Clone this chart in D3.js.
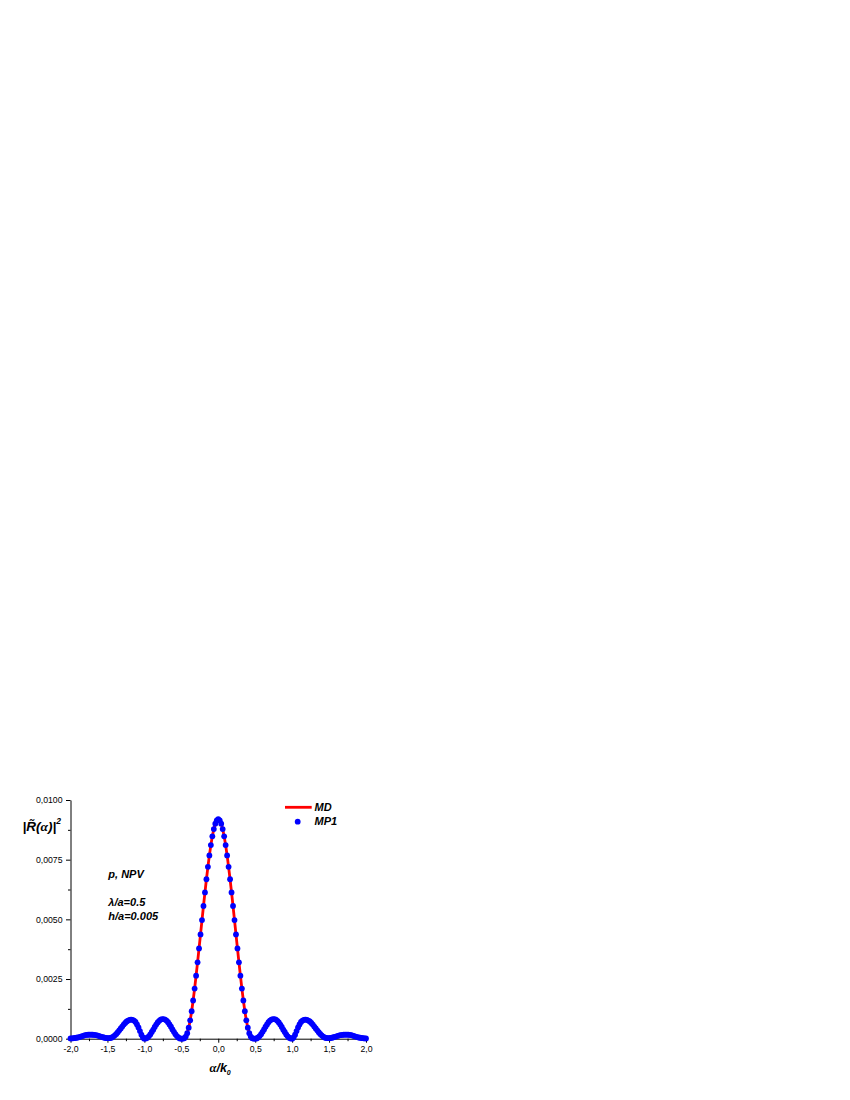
<!DOCTYPE html>
<html><head><meta charset="utf-8">
<script src="https://cdn.jsdelivr.net/npm/d3@7"></script>
<style>body{margin:0;background:#fff}svg{display:block}</style>
</head><body>
<svg id="chart" width="850" height="1100"></svg>
<script>
// ---- data ----
// sampling grid: alpha/k0 from -2.0 to 2.0 in steps of 0.02 (201 samples)
const alphaGrid = d3.range(201).map(i => +(-2 + i * 0.02).toFixed(2));
// |R(alpha)|^2 values, MP1 (blue dots)
const mp1Values = [
0.00001,0.00001,0.00002,0.00003,0.00004,0.00005,0.00007,0.00009,0.00011,0.00013,
0.00015,0.00016,0.00017,0.00017,0.00017,0.00017,0.00016,0.00015,0.00014,0.00012,
0.00010,0.00008,0.00006,0.00004,0.00003,0.00002,0.00002,0.00003,0.00005,0.00009,
0.00014,0.00020,0.00027,0.00035,0.00043,0.00051,0.00059,0.00066,0.00072,0.00076,
0.00079,0.00080,0.00079,0.00076,0.00070,0.00060,0.00047,0.00032,0.00017,0.00005,
0.00000,0.00001,0.00004,0.00010,0.00018,0.00028,0.00038,0.00049,0.00059,0.00068,
0.00075,0.00080,0.00082,0.00082,0.00080,0.00076,0.00069,0.00060,0.00050,0.00039,
0.00029,0.00019,0.00011,0.00005,0.00001,0.00000,0.00000,0.00002,0.00009,0.00023,
0.00046,0.00077,0.00115,0.00160,0.00210,0.00264,0.00320,0.00378,0.00437,0.00497,
0.00556,0.00613,0.00668,0.00720,0.00768,0.00811,0.00848,0.00878,0.00901,0.00915,
0.00920,
0.00915,0.00901,0.00878,0.00848,0.00811,0.00768,0.00720,0.00668,0.00613,0.00556,
0.00497,0.00437,0.00378,0.00320,0.00264,0.00210,0.00160,0.00115,0.00077,0.00046,
0.00023,0.00009,0.00002,0.00000,0.00000,0.00001,0.00005,0.00011,0.00019,0.00029,
0.00039,0.00050,0.00060,0.00069,0.00076,0.00080,0.00082,0.00082,0.00080,0.00075,
0.00068,0.00059,0.00049,0.00038,0.00028,0.00018,0.00010,0.00004,0.00001,0.00000,
0.00005,0.00017,0.00032,0.00047,0.00060,0.00070,0.00076,0.00079,0.00080,0.00079,
0.00076,0.00072,0.00066,0.00059,0.00051,0.00043,0.00035,0.00027,0.00020,0.00014,
0.00009,0.00005,0.00003,0.00002,0.00002,0.00003,0.00004,0.00006,0.00008,0.00010,
0.00012,0.00014,0.00015,0.00016,0.00017,0.00017,0.00017,0.00017,0.00016,0.00015,
0.00013,0.00011,0.00009,0.00007,0.00005,0.00004,0.00003,0.00002,0.00001,0.00001
];
// MD (red line) coincides with MP1 on the picture
const mdValues = mp1Values.slice();

const xTickValues = [-2, -1.5, -1, -0.5, 0, 0.5, 1, 1.5, 2];
const xTickLabels = ["-2,0","-1,5","-1,0","-0,5","0,0","0,5","1,0","1,5","2,0"];
const xMinorTicks = [-1.75,-1.25,-0.75,-0.25,0.25,0.75,1.25,1.75];
const yTickValues = [0, 0.0025, 0.005, 0.0075, 0.01];
const yTickLabels = ["0,0000","0,0025","0,0050","0,0075","0,0100"];
const yMinorTicks = [0.00125, 0.00375, 0.00625, 0.00875];
const legendItems = ["MD", "MP1"];
const annotations = ["p, NPV", "λ/a=0.5", "h/a=0.005"];

// ---- drawing ----
const svg = d3.select("#chart");
const FONT = "'Liberation Sans', Arial, sans-serif";
const x = d3.scaleLinear().domain([-2, 2]).range([70.5, 366]);
const y = d3.scaleLinear().domain([0, 0.01]).range([1038.7, 800]);
const DOT_R = 2.9;

// axes
const xAxis = d3.axisBottom(x).tickValues(xTickValues)
  .tickFormat((d, i) => xTickLabels[i]).tickSize(4).tickPadding(3).tickSizeOuter(0);
svg.append("g").attr("transform", `translate(0,${y(0)})`).call(xAxis);
const gxm = svg.append("g").attr("transform", `translate(0,${y(0)})`)
  .call(d3.axisBottom(x).tickValues(xMinorTicks).tickFormat("").tickSize(2.5).tickSizeOuter(0));
gxm.select(".domain").remove();

const yAxis = d3.axisLeft(y).tickValues(yTickValues)
  .tickFormat((d, i) => yTickLabels[i]).tickSize(4.5).tickPadding(3.5).tickSizeOuter(0);
svg.append("g").attr("transform", `translate(${x(-2)},0)`).call(yAxis);
const gym = svg.append("g").attr("transform", `translate(${x(-2)},0)`)
  .call(d3.axisLeft(y).tickValues(yMinorTicks).tickFormat("").tickSize(2.5).tickSizeOuter(0));
gym.select(".domain").remove();

svg.selectAll(".domain, .tick line").attr("stroke", "#000").attr("stroke-width", 1);
svg.selectAll(".tick text").attr("font-family", FONT).attr("font-size", 8.7).attr("fill", "#000");

// MD line
const line = d3.line().x((d, i) => x(alphaGrid[i])).y(d => y(d));
svg.append("path").datum(mdValues).attr("d", line)
  .attr("fill", "none").attr("stroke", "#ff0000").attr("stroke-width", 2.8)
  .attr("stroke-linejoin", "round");

// MP1 dots
svg.append("g").selectAll("circle").data(mp1Values).join("circle")
  .attr("cx", (d, i) => x(alphaGrid[i])).attr("cy", d => y(d))
  .attr("r", DOT_R).attr("fill", "#0000ff");

// legend
svg.append("line").attr("x1", 285).attr("x2", 311.7).attr("y1", 807.3).attr("y2", 807.3)
  .attr("stroke", "#ff0000").attr("stroke-width", 2.8);
svg.append("circle").attr("cx", 297.7).attr("cy", 821.7).attr("r", DOT_R).attr("fill", "#0000ff");
svg.append("text").attr("class", "lbl").attr("x", 314.5).attr("y", 811).text(legendItems[0]);
svg.append("text").attr("class", "lbl").attr("x", 314.5).attr("y", 825.3).text(legendItems[1]);

// annotations
svg.append("text").attr("class", "lbl").attr("x", 108.3).attr("y", 877.5).text(annotations[0]);
svg.append("text").attr("class", "lbl").attr("x", 108.3).attr("y", 905.5).text(annotations[1]);
svg.append("text").attr("class", "lbl").attr("x", 108.3).attr("y", 919.5).text(annotations[2]);

svg.selectAll("text.lbl")
  .attr("font-family", FONT).attr("font-size", 11)
  .attr("font-weight", "bold").attr("font-style", "italic").attr("fill", "#000");

// y label |R~(alpha)|^2
const yl = svg.append("text").attr("x", 22.5).attr("y", 830.5)
  .attr("font-family", FONT).attr("font-size", 13.5).attr("font-weight", "bold")
  .attr("font-style", "italic").attr("fill", "#000");
yl.append("tspan").text("|R\u0303(");
yl.append("tspan").attr("font-family", "'Liberation Serif', 'Times New Roman', serif").text("α");
yl.append("tspan").text(")|");
yl.append("tspan").attr("font-size", 8.5).attr("dy", -6.5).text("2");

// x label alpha/k0
const xl = svg.append("text").attr("x", 209.5).attr("y", 1071.5)
  .attr("font-family", FONT).attr("font-size", 12.5).attr("font-weight", "bold")
  .attr("font-style", "italic").attr("fill", "#000");
xl.append("tspan").attr("font-family", "'Liberation Serif', 'Times New Roman', serif").text("α");
xl.append("tspan").text("/k");
xl.append("tspan").attr("font-size", 7).attr("dy", 3).text("0");
</script>
</body></html>
